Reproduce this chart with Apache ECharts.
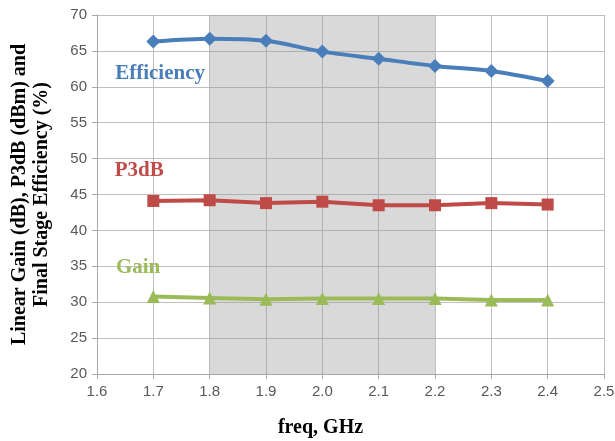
<!DOCTYPE html>
<html>
<head>
<meta charset="utf-8">
<script src="https://cdn.jsdelivr.net/npm/echarts@6/dist/echarts.min.js"></script>
<style>
  html, body { margin: 0; padding: 0; background: #fff; }
  #chart { width: 615px; height: 441px; }
</style>
</head>
<body>
<div id="chart"></div>
<script>
// 数据
const freq = [1.7, 1.8, 1.9, 2.0, 2.1, 2.2, 2.3, 2.4];
const efficiency = [66.3, 66.7, 66.4, 64.9, 63.9, 62.9, 62.2, 60.8];
const p3db = [44.1, 44.2, 43.8, 44.0, 43.5, 43.5, 43.8, 43.6];
const gain = [30.8, 30.6, 30.4, 30.5, 30.5, 30.5, 30.3, 30.3];
const band = [1.8, 2.2]; // 阴影频段
const labelPos = { Efficiency: [1.712, 61.9], P3dB: [1.675, 48.4], Gain: [1.673, 34.8] };

const serif = "Liberation Serif";
const pair = (ys) => freq.map((x, i) => [x, ys[i]]);

function seriesOf(name, ys, color, symbol, size) {
  return {
    name: name,
    type: "line",
    data: pair(ys),
    symbol: symbol,
    symbolSize: size,
    smooth: name === "Efficiency" ? 0.3 : false,
    itemStyle: { color: color },
    lineStyle: { color: color, width: 4 },
    z: 3,
    markPoint: {
      symbol: "circle",
      symbolSize: 1,
      itemStyle: { color: "rgba(0,0,0,0)" },
      data: [{ coord: labelPos[name] }],
      label: {
        show: true,
        position: "inside",
        formatter: name,
        color: color,
        fontFamily: serif,
        fontWeight: "bold",
        fontSize: 21,
      },
    },
  };
}

const chart = echarts.init(document.getElementById("chart"));
chart.setOption({
  animation: false,
  grid: { left: 97, right: 11, top: 15, bottom: 67, outerBoundsMode: "none", containLabel: false },
  xAxis: {
    type: "value",
    min: 1.6,
    max: 2.5,
    interval: 0.1,
    name: "freq, GHz",
    nameLocation: "middle",
    nameGap: 44,
    nameTextStyle: {
      fontFamily: serif,
      fontWeight: "bold",
      fontSize: 20,
      color: "#000",
      padding: [0, 60, 0, 0],
    },
    axisLine: { show: true, lineStyle: { color: "#a6a6a6", width: 1 } },
    axisTick: { show: true, length: 5, lineStyle: { color: "#a6a6a6" } },
    axisLabel: {
      color: "#595959",
      fontSize: 15,
      fontFamily: "Liberation Sans",
      margin: 10,
      formatter: (v) => v.toFixed(1),
    },
    splitLine: { show: true, lineStyle: { color: "#bfbfbf", width: 1 } },
  },
  yAxis: {
    type: "value",
    min: 20,
    max: 70,
    interval: 5,
    name: "Linear Gain (dB), P3dB (dBm) and\nFinal Stage Efficiency (%)",
    nameLocation: "middle",
    nameGap: 44,
    nameTextStyle: {
      fontFamily: serif,
      fontWeight: "bold",
      fontSize: 20,
      lineHeight: 22,
      color: "#000",
    },
    axisLine: { show: true, lineStyle: { color: "#a6a6a6", width: 1 } },
    axisTick: { show: true, length: 5, lineStyle: { color: "#a6a6a6" } },
    axisLabel: { color: "#595959", fontSize: 15, fontFamily: "Liberation Sans", margin: 10 },
    splitLine: { show: true, lineStyle: { color: "#bfbfbf", width: 1 } },
  },
  series: [
    seriesOf("Efficiency", efficiency, "#4a7ebb", "diamond", 14),
    seriesOf("P3dB", p3db, "#be4b48", "rect", 12),
    seriesOf("Gain", gain, "#9bbb59", "triangle", 13),
    {
      type: "line",
      data: [],
      z: 10,
      silent: true,
      markArea: {
        silent: true,
        itemStyle: { color: "rgba(150,150,150,0.36)" },
        data: [[{ xAxis: band[0], yAxis: 20 }, { xAxis: band[1], yAxis: 70 }]],
      },
    },
  ],
});
</script>
</body>
</html>
